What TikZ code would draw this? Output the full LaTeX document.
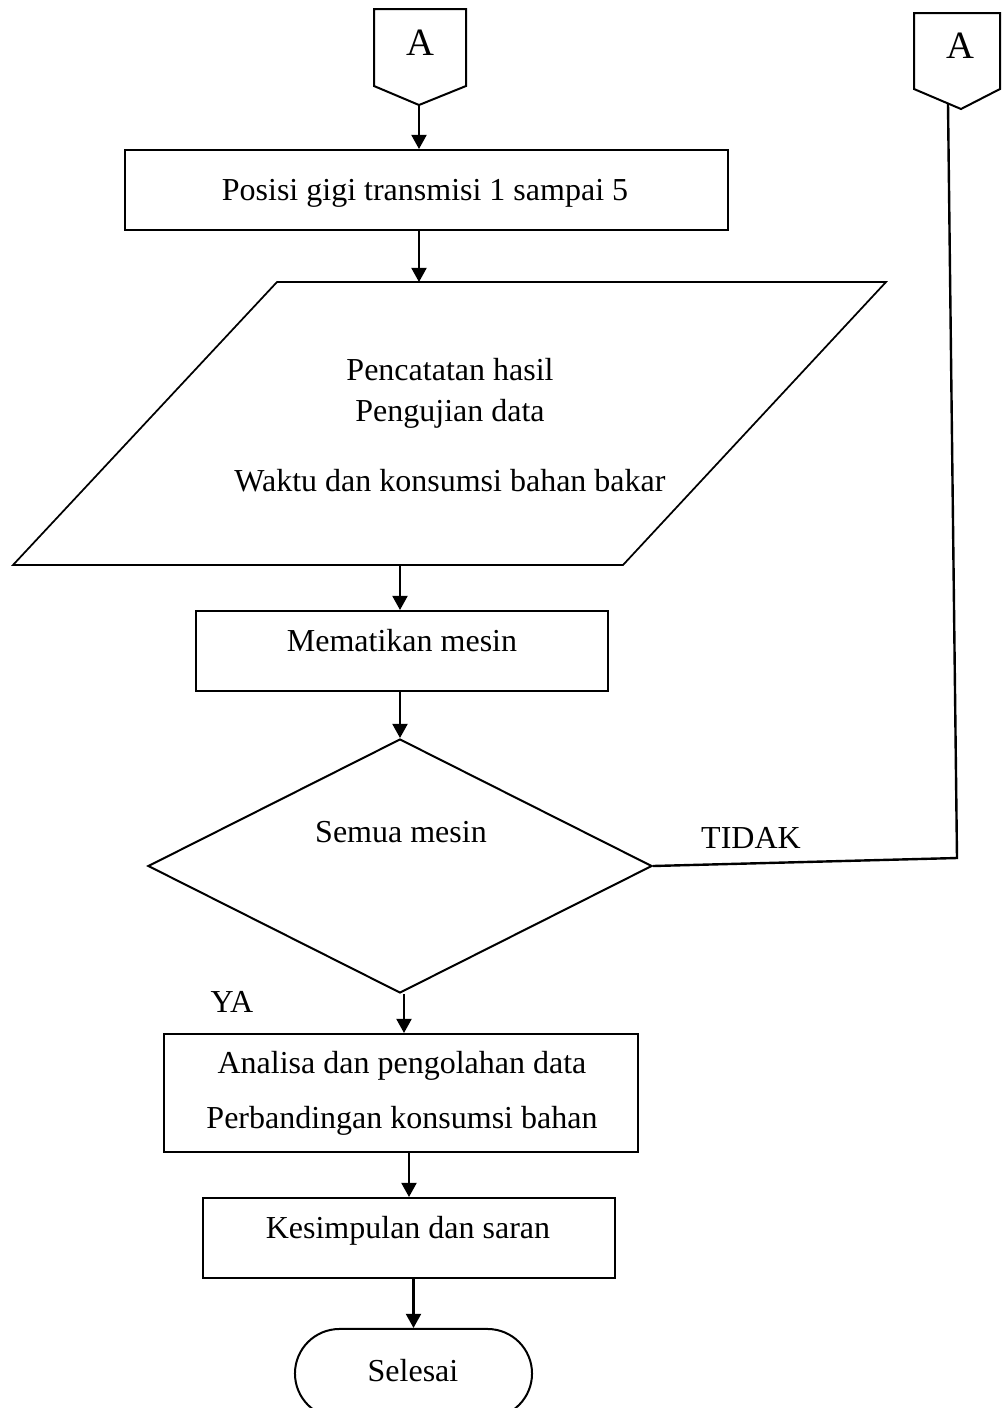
\documentclass[tikz,border=0pt]{standalone}
\usepackage{fontspec}
\setmainfont{Liberation Serif}
\usetikzlibrary{arrows.meta,shapes.geometric,shapes.misc}
\begin{document}
\begin{tikzpicture}[x=0.375pt,y=-0.375pt,
  font=\fontsize{12}{14}\selectfont,
  outline/.style={draw=black,line width=0.75pt},
  procbox/.style={outline,rectangle,inner sep=0pt},
  decision/.style={outline,diamond,inner sep=0pt},
  terminal/.style={outline,rounded rectangle,inner sep=0pt},
  txt/.style={anchor=base,inner sep=0pt},
  pagelabel/.style={txt,font=\fontsize{14.5}{16}\selectfont},
  flow/.style={draw=black,line width=0.9pt,-{Triangle[length=5.3pt,width=5.6pt]}},
  link/.style={draw=black,line width=0.9pt}]
\clip (0,0) rectangle (1002,1408);
\useasboundingbox (0,0) rectangle (1002,1408);

% off-page connectors
\draw[outline,line join=miter] (374,9) -- (466,9) -- (466,86) -- (419,105) -- (374,86) -- cycle;
\coordinate (a1tip) at (419,105);
\node[pagelabel] (a1txt) at (420,55) {A};

\draw[outline,line join=miter] (914,13) -- (1000,13) -- (1000,89) -- (961,109) -- (914,89) -- cycle;
\coordinate (a2tip) at (948,103.5);
\node[pagelabel] (a2txt) at (960,58) {A};

% process steps
\node[procbox,minimum width=226.1pt,minimum height=30pt] (b1) at (426.5,190) {};
\node[txt] (b1txt) at (425,200) {Posisi gigi transmisi 1 sampai 5};

% input / output parallelogram
\coordinate (pTL) at (277,282);
\coordinate (pTR) at (886,282);
\coordinate (pBR) at (623,565);
\coordinate (pBL) at (13,565);
\coordinate (pTop) at (419,282);
\coordinate (pBot) at (400,565);
\draw[outline,line width=0.65pt,line join=miter] (pTL) -- (pTR) -- (pBR) -- (pBL) -- cycle;
\node[txt] (p1) at (450,380) {Pencatatan hasil};
\node[txt] (p2) at (450,421) {Pengujian data};
\node[txt] (p3) at (450,491) {Waktu dan konsumsi bahan bakar};

\node[procbox,minimum width=154.5pt,minimum height=30pt] (b2) at (402,651) {};
\node[txt] (b2txt) at (402,651) {Mematikan mesin};

\node[decision,minimum width=189pt,minimum height=95.25pt] (d) at (400,866) {};
\node[txt] (dtxt) at (401,842) {Semua mesin};
\node[txt] (tidak) at (751,848) {TIDAK};
\node[txt] (ya) at (232,1012) {YA};

\node[procbox,minimum width=177.75pt,minimum height=44.25pt] (b3) at (401,1093) {};
\node[txt] (b3a) at (402,1073) {Analisa dan pengolahan data};
\node[txt] (b3b) at (402,1128) {Perbandingan konsumsi bahan};

\node[procbox,minimum width=154.5pt,minimum height=30pt] (b4) at (409,1238) {};
\node[txt] (b4txt) at (408,1238) {Kesimpulan dan saran};

\node[terminal,minimum width=88.9pt,minimum height=33.4pt] (t) at (413.5,1373.5) {};
\node[txt] (ttxt) at (413,1381) {Selesai};

% connectors
\draw[flow] (a1tip) -- (a1tip |- b1.north);
\draw[flow] (pTop |- b1.south) -- (pTop);
\draw[flow] (pBot) -- (pBot |- b2.north);
\draw[flow] (d.north |- b2.south) -- (d.north);
\draw[flow] ([xshift=1.5pt]d.south) -- ([xshift=1.5pt]d.south |- b3.north);
\draw[flow] (b4.north |- b3.south) -- (b4.north);
\draw[flow] (t.north |- b4.south) -- (t.north);

\coordinate (bend) at (957,858);
\draw[link,line join=miter] (d.east) -- (bend) -- (a2tip);
\end{tikzpicture}
\end{document}
